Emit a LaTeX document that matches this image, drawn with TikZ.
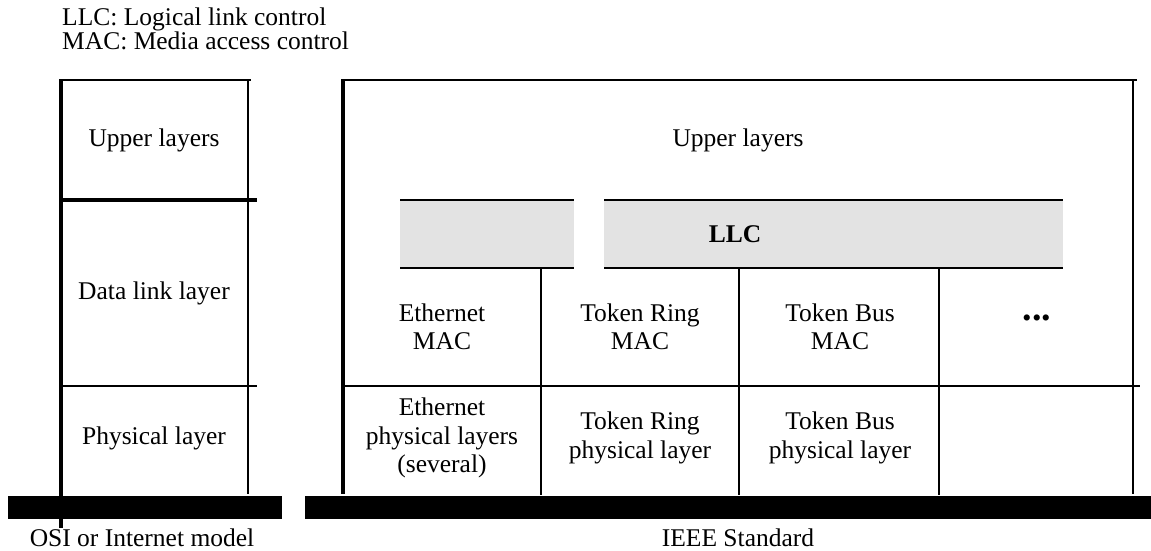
\documentclass[tikz,border=0pt]{standalone}
\usepackage{fontspec}
\setmainfont{Liberation Serif}
\begin{document}
\begin{tikzpicture}[x=1pt, y=-1pt, font=\rmfamily\fontsize{25.5}{28.5}\selectfont,
    lbl/.style={align=center, inner sep=0pt},
    thin rule/.style={line width=1.3pt},
    mid rule/.style={line width=2pt},
    thick rule/.style={line width=3.2pt},
    llc band/.style={fill=black!11, draw=none},
    base bar/.style={fill=black}]
  \useasboundingbox (0,0) rectangle (1151,550);
  % legend
  \node[lbl, anchor=base west] (leg1) at (62,25) {LLC: Logical link control};
  \node[lbl, anchor=base west] (leg2) at (62,49) {MAC: Media access control};
  % OSI column
  \draw[thin rule] (61,80) -- (251,80);
  \draw[thick rule] (61,200) -- (257,200);
  \draw[mid rule] (61,386) -- (257,386);
  \draw[thick rule] (61,79) -- (61,528);
  \draw[thin rule] (248,80) -- (248,494);
  \fill[base bar] (8,496) rectangle (282,519);
  \node[lbl] (osiup) at (154,140) {Upper layers};
  \node[lbl] (osidl) at (154,293) {Data link layer};
  \node[lbl] (osiph) at (154,438) {Physical layer};
  \node[lbl] (osi) at (142,538) {OSI or Internet model};
  % IEEE block
  \draw[thin rule] (343,80) -- (1137,80);
  \draw[thick rule] (343,79) -- (343,494);
  \draw[mid rule] (1133,80) -- (1133,494);
  \fill[llc band] (400,200) rectangle (574,268);
  \fill[llc band] (604,200) rectangle (1063,268);
  \draw[mid rule] (400,200) -- (574,200) (400,268) -- (574,268);
  \draw[mid rule] (604,200) -- (1063,200) (604,268) -- (1063,268);
  \draw[mid rule] (343,386) -- (1140,386);
  \foreach \x in {541,739,939}
    \draw[mid rule] (\x,268) -- (\x,495);
  \fill[base bar] (305,496) rectangle (1151,519);
  \node[lbl] (ieeeup) at (738,140) {Upper layers};
  \node[lbl, font=\rmfamily\fontsize{25.5}{28.5}\selectfont\bfseries] (llc) at (735,234) {LLC};
  \node[lbl] (ethmac) at (442,327) {Ethernet\\MAC};
  \node[lbl] (trmac) at (640,327) {Token Ring\\MAC};
  \node[lbl] (tbmac) at (840,327) {Token Bus\\MAC};
  \node[lbl, font=\rmfamily\fontsize{38}{40}\selectfont\bfseries] (more) at (1037,318) {...};
  \node[lbl] (ethphy) at (442,438) {Ethernet\\physical layers\\(several)};
  \node[lbl] (trphy) at (640,438) {Token Ring\\physical layer};
  \node[lbl] (tbphy) at (840,438) {Token Bus\\physical layer};
  \node[lbl] (ieee) at (738,538) {IEEE Standard};
\end{tikzpicture}
\end{document}
